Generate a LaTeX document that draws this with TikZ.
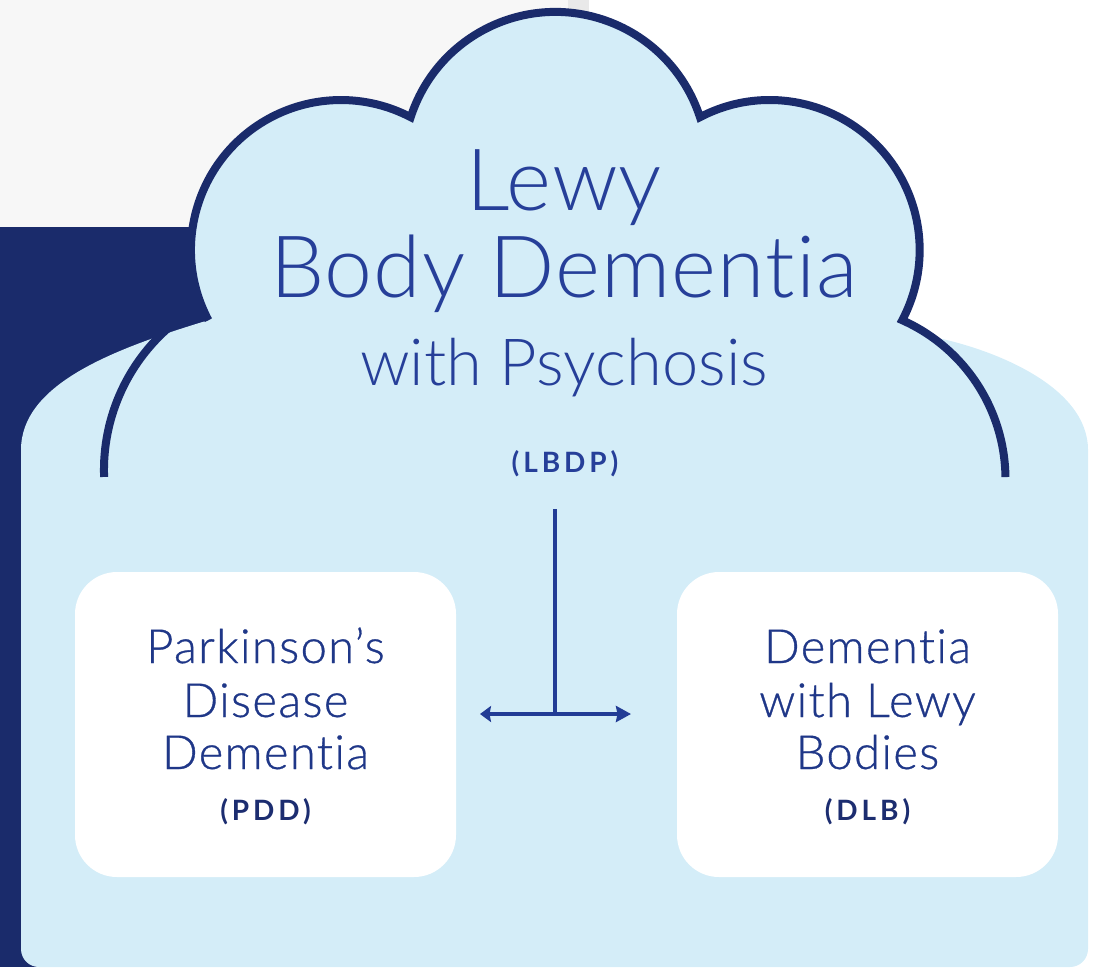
\documentclass[tikz,border=0pt]{standalone}
\usepackage{fontspec}
\setmainfont{Lato}[Ligatures=NoCommon]
\newfontfamily\lightfont{Lato Light}[Ligatures=NoCommon]
\newfontfamily\boxfont{Lato Light}[Ligatures=NoCommon, LetterSpace=3, FakeBold=0.7]
\newfontfamily\acrofont{Lato}[LetterSpace=14, Ligatures=NoCommon]
\usetikzlibrary{arrows.meta}

\definecolor{paper}{HTML}{F7F7F7}
\definecolor{papershade}{HTML}{E9E9E9}
\definecolor{navy}{HTML}{1A2B6B}
\definecolor{sky}{HTML}{D4EDF8}
\definecolor{titleblue}{HTML}{263F99}
\definecolor{bodyblue}{HTML}{1F3788}
\definecolor{acroblue}{HTML}{1C2D70}
\definecolor{linkblue}{HTML}{223C95}

\tikzset{
  outline/.style={draw=navy, line width=8pt},
  boxshape/.style={fill=white, rounded corners=42pt, minimum width=381pt,
                   minimum height=305pt, inner sep=0pt},
  titleA/.style={font=\lightfont\addfontfeature{LetterSpace=1.2}\fontsize{86}{86}\selectfont,
                 text=titleblue, inner sep=0pt, anchor=base},
  titleB/.style={font=\lightfont\fontsize{65}{65}\selectfont, text=titleblue,
                 inner sep=0pt, anchor=base},
  boxline/.style={font=\boxfont\fontsize{47}{47}\selectfont, text=bodyblue,
                  inner sep=0pt, anchor=base},
  acro/.style={font=\acrofont\bfseries\fontsize{28}{28}\selectfont,
               inner sep=0pt, anchor=base},
  link/.style={draw=linkblue, line width=4pt},
}

\begin{document}
\begin{tikzpicture}[x=1pt, y=-1pt]
  \useasboundingbox (0,0) rectangle (1099,967);

  % page backgrounds
  \fill[paper] (0,0) rectangle (568,227);
  \fill[papershade] (568,0) rectangle (589,227);
  \fill[navy] (0,227) rectangle (420,967);

  % light blue panel with the cloud on top
  \fill[sky] (21,450) .. controls (21,385) and (110,350) .. (208.4,320.2)
    arc[start angle=152.1, end angle=297.7, radius=150]
    arc[start angle=197.9, end angle=342.1, radius=152]
    arc[start angle=242.3, end angle=387.9, radius=150]
    arc[start angle=-66, end angle=-55, radius=174]
    .. controls (990,348) and (1088,385) .. (1088,450)
    -- (1088,949) arc[start angle=0, end angle=90, radius=18]
    -- (39,967) arc[start angle=90, end angle=180, radius=18]
    -- cycle;

  % cloud outline
  \draw[outline] (208.4,320.2)
    arc[start angle=152.1, end angle=297.7, radius=150]
    arc[start angle=197.9, end angle=342.1, radius=152]
    arc[start angle=242.3, end angle=387.9, radius=150]
    arc[start angle=-66, end angle=-0.7, radius=174];
  \draw[outline] (176.6,321.1) arc[start angle=232, end angle=177.9, radius=189];

  % title
  \node[titleA] (lewy) at (564,210) {Lewy};
  \node[titleA] (bodydem) at (564,297) {Body Dementia};
  \node[titleB] (psych) at (564,385) {with Psychosis};
  \node[acro, text=titleblue] (lbdp) at (565,472) {(LBDP)};

  % the two sub-types
  \node[boxshape] (pdd) at (265.5,724.5) {};
  \node[boxshape] (dlb) at (867.5,724.5) {};

  \node[boxline] (pddA) at (265.5,663) {Parkinson’s};
  \node[boxline] (pddB) at (265.5,717) {Disease};
  \node[boxline] (pddC) at (265.5,769) {Dementia};
  \node[acro, text=acroblue] (pddD) at (265.5,820) {(PDD)};

  \node[boxline] (dlbA) at (867.5,663) {Dementia};
  \node[boxline] (dlbB) at (867.5,717) {with Lewy};
  \node[boxline] (dlbC) at (867.5,769) {Bodies};
  \node[acro, text=acroblue] (dlbD) at (867.5,820) {(DLB)};

  % branching connector
  \coordinate (stemtop) at (555,509);
  \coordinate (fork) at (555,714);
  \coordinate (tipL) at (480,714);
  \coordinate (tipR) at (631,714);
  \draw[link] (stemtop) -- (fork);
  \draw[link, {Stealth[length=11pt, width=16pt, inset=1.5pt]}-{Stealth[length=15pt, width=16pt, inset=1.5pt]}]
    (tipL) -- (tipR);
\end{tikzpicture}
\end{document}
